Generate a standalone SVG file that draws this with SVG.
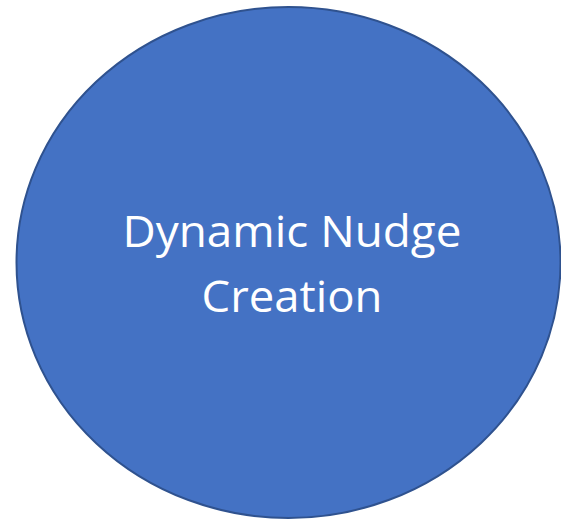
<svg xmlns="http://www.w3.org/2000/svg" width="561" height="520" viewBox="0 0 561 520">
<style>
.shape{fill:#4472C4;stroke:#2F528F;stroke-width:2}
.label{fill:#FFFFFF;font-family:"Open Sans","Liberation Sans",sans-serif;font-size:44px;text-anchor:middle}
</style>
<rect width="561" height="520" fill="#FFFFFF"/>
<g id="node-dynamic-nudge-creation">
<ellipse class="shape" cx="288.5" cy="262.5" rx="272" ry="255.5"/>
<text class="label" x="292" y="247" textLength="339" lengthAdjust="spacingAndGlyphs">Dynamic Nudge</text>
<text class="label" x="292" y="312" textLength="181" lengthAdjust="spacingAndGlyphs">Creation</text>
</g>
<g id="connectors"></g>
</svg>
